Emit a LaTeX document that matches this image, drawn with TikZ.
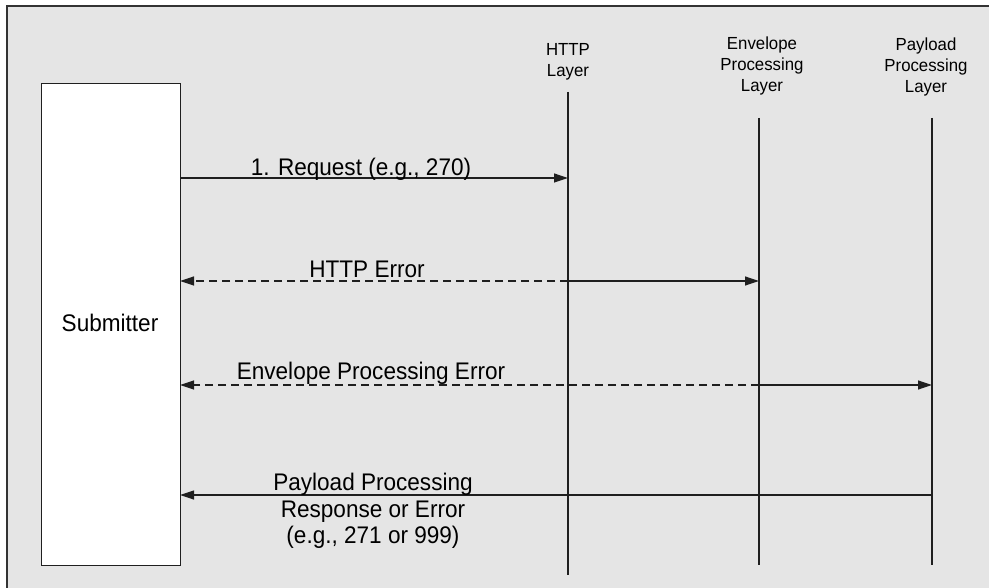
\documentclass[tikz,border=0pt]{standalone}
\usepackage{fontspec}
\setmainfont{Liberation Sans}
\usetikzlibrary{arrows.meta}
\begin{document}
\begin{tikzpicture}[x=1pt,y=-1pt,
  ln/.style={draw=black!88, line width=1.2pt},
  msg/.style={ln, -{Triangle[length=14pt,width=9pt]}},
  dsh/.style={ln, dash pattern=on 8pt off 5pt},
  head/.style={font=\fontsize{17.5}{20.7}\selectfont, align=center, inner sep=0pt, xscale=0.96},
  lbl/.style={font=\fontsize{24}{27}\selectfont, inner sep=0pt, xscale=0.94, align=center, anchor=base}]
\useasboundingbox (0,0) rectangle (989,588);
\fill[black!10] (7,6) rectangle (1000,600);
\draw[draw=black!80, line width=2pt] (7,610) -- (7,6) -- (1000,6);
% submitter box
\node[draw=black!88, line width=1.2pt, fill=white, minimum width=139pt, minimum height=482pt, inner sep=0pt, anchor=north west] (sub) at (41,83) {};
\node[lbl] (subl) at (110,332) {Submitter};
% headers
\node[head] (hh) at (568,62) {HTTP\\Layer};
\node[head] (he) at (762,66) {Envelope\\Processing\\Layer};
\node[head] (hp) at (926,67) {Payload\\Processing\\Layer};
% lifelines
\coordinate (h1) at (568,92); \coordinate (h2) at (568,575);
\coordinate (e1) at (759,118); \coordinate (e2) at (759,565);
\coordinate (p1) at (932,118); \coordinate (p2) at (932,565);
\draw[ln] (h1) -- (h2);
\draw[ln] (e1) -- (e2);
\draw[ln] (p1) -- (p2);
% message points
\coordinate (s1) at (180,178); \coordinate (hr1) at (568,178);
\coordinate (s2) at (180,281); \coordinate (hr2) at (568,281); \coordinate (er2) at (759,281);
\coordinate (s3) at (180,385); \coordinate (er3) at (759,385); \coordinate (pr3) at (932,385);
\coordinate (s4) at (180,495); \coordinate (pr4) at (932,495);
% 1 request
\draw[msg] (s1) -- (hr1);
\node[lbl] (l1) at (361,176) {1. Request (e.g., 270)};
% 2 HTTP error
\draw[dsh, -{Triangle[length=14pt,width=9pt]}] (hr2) -- (s2);
\draw[msg] (hr2) -- (er2);
\node[lbl] (l2) at (367,278) {HTTP Error};
% 3 envelope error
\draw[dsh, -{Triangle[length=14pt,width=9pt]}] (er3) -- (s3);
\draw[msg] (er3) -- (pr3);
\node[lbl] (l3) at (371,380) {Envelope Processing Error};
% 4 payload
\draw[msg] (pr4) -- (s4);
\node[lbl] (l4a) at (373,490) {Payload Processing};
\node[lbl] (l4b) at (373,517) {Response or Error};
\node[lbl] (l4c) at (373,543) {(e.g., 271 or 999)};
\end{tikzpicture}
\end{document}
